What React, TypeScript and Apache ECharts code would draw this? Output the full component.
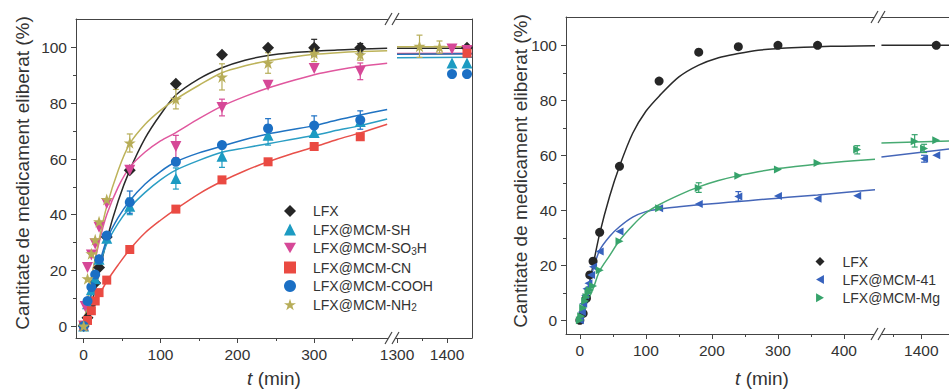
import React, { useEffect, useRef } from 'react';
import * as echarts from 'echarts';

// ---------------- Left panel (functionalised MCM) ----------------
const lfxT = [0, 5, 10, 15, 20, 30, 60, 120, 180, 240, 300, 360, 1440];
const lfxV = [0, 3, 8, 15.5, 21, 32, 56, 87, 97.5, 100, 100, 100, 100];
const shT = [0, 5, 10, 15, 20, 30, 60, 120, 180, 240, 300, 360, 1410, 1440];
const shV = [0, 8, 13, 17, 24, 31.5, 43, 53, 61, 68.5, 69.5, 73.5, 94.5, 94.5];
const so3hT = [0, 2, 5, 10, 15, 20, 30, 60, 120, 180, 240, 300, 360, 1410, 1440];
const so3hV = [0, 7, 21, 25.5, 29.5, 35.5, 44, 56, 64.5, 78.5, 86.5, 92.5, 91.5, 99.5, 99];
const cnT = [0, 5, 10, 15, 20, 30, 60, 120, 180, 240, 300, 360, 1440];
const cnV = [0, 2, 5.5, 9, 12, 16.5, 27.5, 42, 52.5, 59, 64.5, 68, 98];
const coohT = [0, 5, 10, 15, 20, 30, 60, 120, 180, 240, 300, 360, 1410, 1440];
const coohV = [0, 9, 14, 18.5, 24, 32.5, 44.5, 59, 65, 71, 72, 74, 90.5, 90.5];
const nh2T = [0, 5, 10, 15, 20, 30, 60, 120, 180, 240, 300, 360, 1345, 1385];
const nh2V = [0, 17, 26, 31, 37.5, 45.5, 65.8, 81.5, 89.5, 94.5, 98, 97.5, 100.5, 100.2];

// error bars [t, low, high]
const lfxErr = [[300, 97, 103], [360, 98, 101.5]];
const shErr = [[60, 40, 46], [120, 49.2, 56.8], [180, 57, 65], [240, 65, 72]];
const so3hErr = [[120, 60.5, 68.5], [180, 75.5, 81.5], [360, 88.5, 94.5]];
const cnErr: number[][] = [];
const coohErr = [[60, 40.5, 48.5], [240, 67.5, 74.5], [300, 68.5, 75.5], [360, 70.7, 77.3]];
const nh2Err = [[60, 62.5, 69], [120, 78, 85], [180, 84.8, 94.2], [240, 90.8, 98.2], [300, 95, 101], [360, 95.5, 99.5], [1345, 96.5, 104.5], [1385, 98, 102.4]];

// fitted curves
const fitTL = [0, 10, 20, 30, 45, 60, 80, 100, 120, 150, 180, 210, 240, 270, 300, 330, 360, 395];
const fitLfxL = [0, 8, 19, 31, 45, 56, 67.5, 76, 83, 88.8, 92.8, 95.5, 97.2, 98.2, 98.7, 99.2, 99.5, 99.8];
const fitShL = [0, 11, 21, 29.5, 37, 42.5, 48, 52.5, 56, 59.5, 62.4, 64, 65.5, 67, 68.5, 70.3, 72, 74.4];
const fitSo3hL = [0, 17, 30, 40, 50, 57, 62.5, 66.5, 69.5, 74.5, 79, 82.5, 85.5, 88, 90.3, 92, 93.3, 94.4];
const fitCnL = [0, 5.5, 11, 16, 22, 27.5, 33.5, 38, 42, 47.5, 52, 55.8, 59, 61.8, 64.3, 67, 69.4, 72.5];
const fitCoohL = [0, 12, 22, 31, 39, 45, 51, 55.5, 59, 62.2, 64.6, 67, 69, 70.5, 72, 74, 75.8, 77.8];
const fitNh2L = [0, 17, 31, 43, 56, 65.5, 72.5, 77.5, 81.5, 86.5, 91, 93.5, 95.3, 96.6, 97.6, 98.2, 98.6, 98.9];
const fitTLR = [1300, 1450];
const fitLfxLR = [99.8, 99.8];
const fitShLR = [96.4, 96.6];
const fitSo3hLR = [97.9, 98];
const fitCnLR = [97.7, 97.8];
const fitCoohLR = [97.6, 97.8];
const fitNh2LR = [100.3, 100.3];

// ---------------- Right panel (MCM-41 / MCM-Mg) ----------------
const lfx2T = [0, 5, 10, 15, 20, 30, 60, 120, 180, 240, 300, 360, 1427];
const lfx2V = [0, 2.5, 8, 16.5, 21.5, 32, 56, 87, 97.5, 99.5, 100, 100, 100];
const m41T = [0, 3, 5, 8, 10, 13, 17, 20, 30, 60, 120, 180, 240, 300, 360, 420, 1405, 1427];
const m41V = [0, 3, 6, 9, 11.5, 13.5, 16.5, 19.5, 25, 32.3, 40.7, 42.3, 45, 45.2, 44.2, 45.3, 58.7, 60];
const mgT = [0, 2, 5, 8, 10, 13, 15, 20, 30, 60, 120, 180, 240, 300, 360, 420, 1388, 1405, 1427];
const mgV = [0, 1.5, 4.5, 7, 8.5, 10, 11, 12.5, 18.2, 28.7, 40.7, 48.1, 52.6, 54.8, 57.2, 62.1, 65.1, 62.5, 65.5];
const lfx2Err: number[][] = [];
const m41Err = [[240, 43.3, 46.8], [1405, 57.5, 60]];
const mgErr = [[180, 46.5, 50], [420, 60.5, 63.5], [1388, 63, 67.5], [1405, 61, 64]];

const fitTR = [0, 10, 20, 30, 45, 60, 80, 100, 120, 150, 180, 210, 240, 270, 300, 330, 360, 400, 447];
const fitLfx2 = [0, 8, 20, 31.5, 45, 56, 68, 76, 81.5, 88.5, 92.8, 95.5, 97, 98.2, 98.8, 99.2, 99.5, 99.7, 99.8];
const fit41 = [0, 10, 18.5, 25.5, 30.5, 34, 37.5, 39.5, 40.5, 41.3, 42, 42.6, 43.2, 43.8, 44.4, 45, 45.6, 46.5, 47.5];
const fitMg = [0, 6, 11.5, 18, 23.5, 29, 34.5, 39, 42, 45.5, 48.5, 50.8, 52.6, 54, 55.2, 56, 56.8, 57.7, 58.6];
const fitTRR = [1328, 1450];
const fitLfx2R = [100, 100];
const fit41R = [59.4, 62.3];
const fitMgR = [64.5, 65.2];

// ---------------- ticks / labels ----------------
const yMajor = [0, 20, 40, 60, 80, 100];
const yMinor = [10, 30, 50, 70, 90];
const xMajorL = [0, 100, 200, 300];
const xMinorL = [50, 150, 250, 350];
const xMajorLR = [1300, 1400];
const xMinorLR = [1350];
const xMajorR = [0, 100, 200, 300, 400];
const xMinorR = [50, 150, 250, 350];
const xMajorRR = [1400];
const xMinorRR = [1350];

const yTitle = 'Cantitate de medicament eliberat (%)';

const FONT = "'Liberation Sans', Arial, Helvetica, sans-serif";
const AX = '#444';
const TXT = '#333';

const STAR = 'path://M50,0 L61.8,35.3 L99,35.3 L68.9,57.1 L80.3,92.7 L50,70.9 L19.7,92.7 L31.1,57.1 L1,35.3 L38.2,35.3 Z';
const TRI_DOWN = 'path://M0,0 L100,0 L50,87 Z';
const TRI_LEFT = 'path://M87,0 L87,100 L0,50 Z';
const TRI_RIGHT = 'path://M0,0 L0,100 L87,50 Z';

const zip = (a: number[], b: number[]) => a.map((x, i) => [x, b[i]]);

const lineStyleAx = { color: AX, width: 1 };
const plain = (v: number) => String(v);

const mkX = (gridIndex: number, min: number, max: number, major: number[], minor: number[]) => [
  {
    type: 'value', gridIndex, min, max, position: 'bottom',
    axisLine: { show: true, onZero: false, lineStyle: lineStyleAx },
    axisTick: { show: true, inside: false, length: 5, customValues: major, lineStyle: lineStyleAx },
    axisLabel: { show: true, customValues: major, formatter: plain, margin: 8, fontSize: 15.5, color: TXT, fontFamily: FONT },
    splitLine: { show: false },
  },
  {
    type: 'value', gridIndex, min, max, position: 'bottom',
    axisLine: { show: false, onZero: false },
    axisTick: { show: true, inside: false, length: 3, customValues: minor, lineStyle: lineStyleAx },
    axisLabel: { show: false },
    splitLine: { show: false },
  },
  {
    type: 'value', gridIndex, min, max, position: 'top',
    axisLine: { show: true, onZero: false, lineStyle: lineStyleAx },
    axisTick: { show: false }, axisLabel: { show: false }, splitLine: { show: false },
  },
];

const mkYLeft = (gridIndex: number, min: number, max: number) => [
  {
    type: 'value', gridIndex, min, max, position: 'left',
    axisLine: { show: true, onZero: false, lineStyle: lineStyleAx },
    axisTick: { show: true, inside: false, length: 5, customValues: yMajor, lineStyle: lineStyleAx },
    axisLabel: { show: true, customValues: yMajor, formatter: plain, margin: 9, fontSize: 15.5, color: TXT, fontFamily: FONT },
    splitLine: { show: false },
  },
  {
    type: 'value', gridIndex, min, max, position: 'left',
    axisLine: { show: false, onZero: false },
    axisTick: { show: true, inside: false, length: 3, customValues: yMinor, lineStyle: lineStyleAx },
    axisLabel: { show: false }, splitLine: { show: false },
  },
];
const mkYRight = (gridIndex: number, min: number, max: number) => ({
  type: 'value', gridIndex, min, max, position: 'right',
  axisLine: { show: true, onZero: false, lineStyle: lineStyleAx },
  axisTick: { show: false }, axisLabel: { show: false }, splitLine: { show: false },
});

const errRender = (color: string) => (params: any, api: any) => {
  const t = api.value(0);
  const lo = api.coord([t, api.value(1)]);
  const hi = api.coord([t, api.value(2)]);
  const cw = 3;
  const st = { stroke: color, lineWidth: 1.2 };
  return {
    type: 'group',
    children: [
      { type: 'line', shape: { x1: lo[0], y1: lo[1], x2: hi[0], y2: hi[1] }, style: st },
      { type: 'line', shape: { x1: lo[0] - cw, y1: lo[1], x2: lo[0] + cw, y2: lo[1] }, style: st },
      { type: 'line', shape: { x1: hi[0] - cw, y1: hi[1], x2: hi[0] + cw, y2: hi[1] }, style: st },
    ],
  };
};

interface Spec {
  name: string; t: number[]; v: number[]; err: number[][];
  fT: number[]; fV: number[]; fTR: number[]; fVR: number[];
  color: string; lineColor: string; symbol: string; size: number;
}

const panelSeries = (s: Spec, L: { x: number; y: number }, R: { x: number; y: number }, split: number) => {
  const pts = zip(s.t, s.v);
  const out: any[] = [];
  const lineBase = {
    type: 'line', showSymbol: false, symbol: 'none', smooth: 0.3,
    lineStyle: { color: s.lineColor, width: 1.5 }, itemStyle: { color: s.lineColor }, z: 2, silent: true,
  };
  out.push({ ...lineBase, name: s.name + ' fit', xAxisIndex: L.x, yAxisIndex: L.y, data: zip(s.fT, s.fV) });
  out.push({ ...lineBase, name: s.name + ' fit2', xAxisIndex: R.x, yAxisIndex: R.y, data: zip(s.fTR, s.fVR) });
  const eL = s.err.filter((e) => e[0] < split);
  const eR = s.err.filter((e) => e[0] >= split);
  out.push({ type: 'custom', name: s.name + ' err', xAxisIndex: L.x, yAxisIndex: L.y, data: eL, renderItem: errRender(s.color), z: 3, silent: true });
  out.push({ type: 'custom', name: s.name + ' err2', xAxisIndex: R.x, yAxisIndex: R.y, data: eR, renderItem: errRender(s.color), z: 3, silent: true });
  const sc = { type: 'scatter', name: s.name, symbol: s.symbol, symbolSize: s.size, itemStyle: { color: s.color, opacity: 1 }, z: 4, silent: true };
  out.push({ ...sc, xAxisIndex: L.x, yAxisIndex: L.y, data: pts.filter((p) => p[0] < split) });
  out.push({ ...sc, xAxisIndex: R.x, yAxisIndex: R.y, data: pts.filter((p) => p[0] >= split) });
  return out;
};

const leftSpecs: Spec[] = [
  { name: 'LFX', t: lfxT, v: lfxV, err: lfxErr, fT: fitTL, fV: fitLfxL, fTR: fitTLR, fVR: fitLfxLR, color: '#262626', lineColor: '#2a2a2a', symbol: 'diamond', size: 12 },
  { name: 'LFX@MCM-SH', t: shT, v: shV, err: shErr, fT: fitTL, fV: fitShL, fTR: fitTLR, fVR: fitShLR, color: '#1c9bc2', lineColor: '#2b9ec4', symbol: 'triangle', size: 11 },
  { name: 'LFX@MCM-SO3H', t: so3hT, v: so3hV, err: so3hErr, fT: fitTL, fV: fitSo3hL, fTR: fitTLR, fVR: fitSo3hLR, color: '#d64897', lineColor: '#e0579e', symbol: TRI_DOWN, size: 11 },
  { name: 'LFX@MCM-CN', t: cnT, v: cnV, err: cnErr, fT: fitTL, fV: fitCnL, fTR: fitTLR, fVR: fitCnLR, color: '#ea4a42', lineColor: '#e8504a', symbol: 'rect', size: 9 },
  { name: 'LFX@MCM-COOH', t: coohT, v: coohV, err: coohErr, fT: fitTL, fV: fitCoohL, fTR: fitTLR, fVR: fitCoohLR, color: '#1b6fc4', lineColor: '#2073c2', symbol: 'circle', size: 10 },
  { name: 'LFX@MCM-NH2', t: nh2T, v: nh2V, err: nh2Err, fT: fitTL, fV: fitNh2L, fTR: fitTLR, fVR: fitNh2LR, color: '#b7ad58', lineColor: '#bdb35a', symbol: STAR, size: 12 },
];

const rightSpecs: Spec[] = [
  { name: 'LFX', t: lfx2T, v: lfx2V, err: lfx2Err, fT: fitTR, fV: fitLfx2, fTR: fitTRR, fVR: fitLfx2R, color: '#262626', lineColor: '#2a2a2a', symbol: 'circle', size: 9 },
  { name: 'LFX@MCM-41', t: m41T, v: m41V, err: m41Err, fT: fitTR, fV: fit41, fTR: fitTRR, fVR: fit41R, color: '#3762bd', lineColor: '#4566b8', symbol: TRI_LEFT, size: 8 },
  { name: 'LFX@MCM-Mg', t: mgT, v: mgV, err: mgErr, fT: fitTR, fV: fitMg, fTR: fitTRR, fVR: fitMgR, color: '#36a36b', lineColor: '#47aa72', symbol: TRI_RIGHT, size: 8 },
];

const legendFmt = (name: string) => {
  if (name.endsWith('SO3H')) return '{a|LFX@MCM-SO}{s|3}{n|H}';
  if (name.endsWith('NH2')) return '{a|LFX@MCM-NH}{s|2}';
  return '{a|' + name + '}';
};
const legendRich = (pad: number) => ({
  a: { fontSize: 14, fontFamily: FONT, color: TXT, lineHeight: 16, padding: [0, 0, 0, pad] },
  n: { fontSize: 14, fontFamily: FONT, color: TXT, lineHeight: 16 },
  s: { fontSize: 10, fontFamily: FONT, color: TXT, verticalAlign: 'bottom' },
});

const breakMark = (bx: number, by: number) => ({
  type: 'group', z: 100,
  children: [
    { type: 'polygon', z: 100, shape: { points: [[bx - 7, by + 6], [bx, by - 6], [bx + 7, by - 6], [bx, by + 6]] }, style: { fill: '#fff' } },
    { type: 'line', z: 101, shape: { x1: bx - 7, y1: by + 6, x2: bx, y2: by - 6 }, style: { stroke: AX, lineWidth: 1.2 } },
    { type: 'line', z: 101, shape: { x1: bx, y1: by + 6, x2: bx + 7, y2: by - 6 }, style: { stroke: AX, lineWidth: 1.2 } },
  ],
});

const titleStyle = {
  fontSize: 19, fontFamily: FONT, fill: TXT, textAlign: 'center', textVerticalAlign: 'middle', align: 'center', verticalAlign: 'middle',
};
const xTitle = (x: number, y: number) => ({
  type: 'text', x, y, z: 50,
  style: {
    ...titleStyle,
    text: '{i|t} (min)',
    rich: { i: { fontStyle: 'italic', fontSize: 19, fontFamily: FONT, fill: TXT, color: TXT } },
  },
});

const buildOption = () => ({
  animation: false,
  backgroundColor: '#fff',
  grid: [
    { left: 76, top: 19, width: 315, height: 319 },
    { left: 392, top: 19, width: 80, height: 319 },
    { left: 566, top: 17, width: 311, height: 317 },
    { left: 877, top: 17, width: 86, height: 317 },
  ],
  xAxis: [
    ...mkX(0, -10, 400, xMajorL, xMinorL),
    ...mkX(1, 1290, 1450, xMajorLR, xMinorLR),
    ...mkX(2, -21, 450, xMajorR, xMinorR),
    ...mkX(3, 1320, 1450, xMajorRR, xMinorRR),
  ],
  yAxis: [
    ...mkYLeft(0, -4.3, 110.3),
    mkYRight(1, -4.3, 110.3),
    ...mkYLeft(2, -5, 110.3),
    mkYRight(3, -5, 110.3),
  ],
  legend: [
    {
      data: leftSpecs.map((s) => s.name), orient: 'vertical', left: 279, top: 199,
      itemWidth: 12, itemHeight: 12, itemGap: 4.5, selectedMode: false, formatter: legendFmt,
      textStyle: { fontSize: 14, fontFamily: FONT, color: TXT, rich: legendRich(12) },
    },
    {
      data: rightSpecs.map((s) => s.name), orient: 'vertical', left: 810.5, top: 249.5,
      itemWidth: 9, itemHeight: 9, itemGap: 4.1, selectedMode: false, formatter: legendFmt,
      textStyle: { fontSize: 14, fontFamily: FONT, color: TXT, rich: legendRich(13) },
    },
  ],
  graphic: [
    { type: 'text', x: 22, y: 173, rotation: Math.PI / 2, z: 50, style: { ...titleStyle, text: yTitle } },
    { type: 'text', x: 520, y: 171, rotation: Math.PI / 2, z: 50, style: { ...titleStyle, text: yTitle } },
    xTitle(274, 378),
    xTitle(762, 378),
    breakMark(392, 19),
    breakMark(392, 338),
    breakMark(878, 17),
    breakMark(878, 334),
  ],
  series: [
    ...leftSpecs.flatMap((s) => panelSeries(s, { x: 0, y: 0 }, { x: 3, y: 2 }, 1000)),
    ...rightSpecs.flatMap((s) => panelSeries(s, { x: 6, y: 3 }, { x: 9, y: 5 }, 1000)),
  ],
});

export default function App() {
  const ref = useRef<HTMLDivElement>(null);
  useEffect(() => {
    document.body.style.margin = '0';
    const chart = echarts.init(ref.current as HTMLDivElement, null, { renderer: 'svg' });
    chart.setOption(buildOption() as any);
    return () => chart.dispose();
  }, []);
  return <div ref={ref} style={{ width: 949, height: 392, overflow: 'hidden' }} />;
}
